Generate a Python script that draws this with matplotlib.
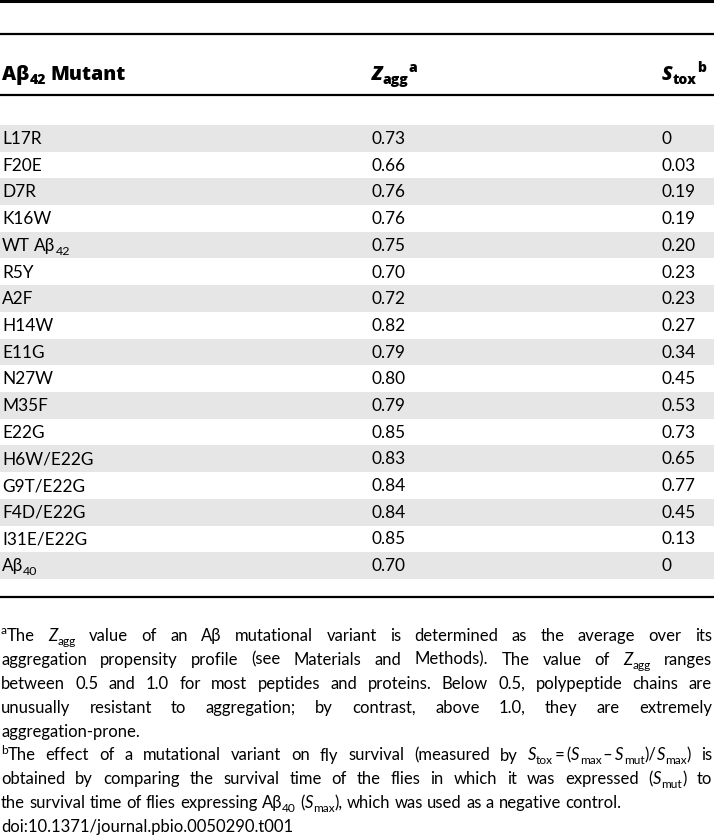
import re
import matplotlib
matplotlib.use('Agg')
import matplotlib.pyplot as plt

# table data
mutants = ['L17R', 'F20E', 'D7R', 'K16W', 'WT A\u03b2_{42}', 'R5Y', 'A2F', 'H14W', 'E11G',
           'N27W', 'M35F', 'E22G', 'H6W/E22G', 'G9T/E22G', 'F4D/E22G', 'I31E/E22G', 'A\u03b2_{40}']
z_agg = [0.73, 0.66, 0.76, 0.76, 0.75, 0.70, 0.72, 0.82, 0.79, 0.80, 0.79, 0.85, 0.83, 0.84, 0.84, 0.85, 0.70]
s_tox = [0, 0.03, 0.19, 0.19, 0.20, 0.23, 0.23, 0.27, 0.34, 0.45, 0.53, 0.73, 0.65, 0.77, 0.45, 0.13, 0]

headers = ['A\u03b2_{42} Mutant', '*Z*_{agg}^{a}', '*S*_{tox}^{b}']

notes = [
    '^{a}The *Z*_{agg} value of an A\u03b2 mutational variant is determined as the average over its',
    'aggregation propensity profile (see Materials and Methods). The value of *Z*_{agg} ranges',
    'between 0.5 and 1.0 for most peptides and proteins. Below 0.5, polypeptide chains are',
    'unusually resistant to aggregation; by contrast, above 1.0, they are extremely',
    'aggregation-prone.',
    '^{b}The effect of a mutational variant on fly survival (measured by '
    '*S*_{tox}\u2009=\u2009(*S*_{max}\u2009\u2013\u2009*S*_{mut})/*S*_{max}) is',
    'obtained by comparing the survival time of the flies in which it was expressed (*S*_{mut}) to',
    'the survival time of flies expressing A\u03b2_{40} (*S*_{max}), which was used as a negative control.',
    'doi:10.1371/journal.pbio.0050290.t001',
]
justified = [True, True, True, True, False, True, True, False, False]

FAM = ['Lato', 'Open Sans', 'DejaVu Sans']
HEAD_FAM = ['Open Sans', 'DejaVu Sans']
HEAD_SIZE = 14.0
BODY_SIZE = 12.4
NOTE_SIZE = 11.95
W, H = 714, 840

fig = plt.figure(figsize=(W / 100, H / 100), dpi=100)
ax = fig.add_axes([0, 0, 1, 1])
ax.set_xlim(0, W)
ax.set_ylim(H, 0)
ax.axis('off')
renderer = fig.canvas.get_renderer()

TOK = re.compile(r'(\*[^*]+\*|_\{[^}]*\}|\^\{[^}]*\})')


def parse(word):
    runs = []
    for part in TOK.split(word):
        if not part:
            continue
        if part[0] == '*':
            runs.append((part[1:-1], 'i'))
        elif part[:2] == '_{':
            runs.append((part[2:-1], 'sub'))
        elif part[:2] == '^{':
            runs.append((part[2:-1], 'sup'))
        else:
            runs.append((part, ''))
    return runs


def text_width(s, size, weight='normal', fam=FAM):
    t = ax.text(0, 0, s, fontsize=size, family=fam, fontweight=weight)
    w = t.get_window_extent(renderer).width
    t.remove()
    return w


def make_word(runs, size, weight='normal', fam=FAM):
    px = size * 100 / 72
    items = []
    x = 0
    for txt, st in runs:
        fs = size * 0.72 if st in ('sub', 'sup') else size
        dy = {'sub': 0.22 * px, 'sup': -0.40 * px}.get(st, 0)
        t = ax.text(0, 0, txt, fontsize=fs, family=fam, fontweight=weight,
                    fontstyle='italic' if st == 'i' else 'normal',
                    va='baseline', ha='left')
        items.append((t, x, dy))
        x += t.get_window_extent(renderer).width
    return items, x


def draw_line(s, x0, y, size, weight='normal', width=None, fam=FAM):
    words = [make_word(parse(w), size, weight, fam) for w in s.split(' ')]
    sp = text_width('x x', size, weight, fam) - text_width('xx', size, weight, fam)
    if width is not None and len(words) > 1:
        sp = (width - sum(w for _, w in words)) / (len(words) - 1)
    x = x0
    for items, w in words:
        for t, ox, dy in items:
            t.set_position((x + ox, y + dy))
        x += w + sp


# rules
ax.axhline(1.2, color='black', lw=2.2)
ax.axhline(34, color='black', lw=1.6)
ax.axhline(95, color='black', lw=1.6)
ax.axhline(597, color='black', lw=1.6)

col_x = [2, 372, 662]
for cx, h in zip(col_x, headers):
    draw_line(h, cx, 80, HEAD_SIZE, weight='heavy', fam=HEAD_FAM)

row_top = 125
row_h = 26.7
for i, (name, z, s) in enumerate(zip(mutants, z_agg, s_tox)):
    top = row_top + i * row_h
    if i % 2 == 0:
        ax.axhspan(top, top + row_h, color='#e6e6e6', lw=0, zorder=0)
    base = top + 19
    draw_line(name, col_x[0], base, BODY_SIZE)
    draw_line(f'{z:.2f}', col_x[1], base, BODY_SIZE)
    draw_line('0' if s == 0 else f'{s:.2f}', col_x[2], base, BODY_SIZE)

note_y = 641
note_dy = 23.9
for k, (line, just) in enumerate(zip(notes, justified)):
    draw_line(line, 1, note_y + k * note_dy, NOTE_SIZE, width=711 if just else None)

fig.savefig('out.png', dpi=100)
